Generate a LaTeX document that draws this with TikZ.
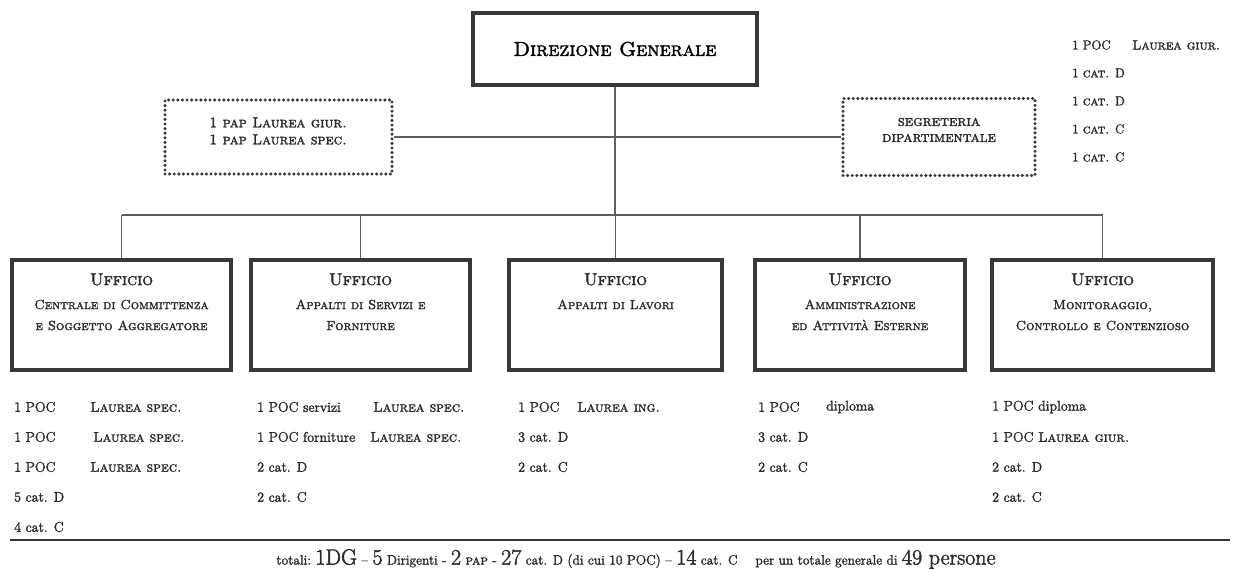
\documentclass[tikz,border=0pt]{standalone}
\usepackage{fontspec}
\setmainfont{Latin Modern Roman}[FakeBold=2, SmallCapsFont={Latin Modern Roman Caps}, SmallCapsFeatures={FakeBold=2}]
\usetikzlibrary{positioning}
\definecolor{boxgray}{HTML}{383838}
\definecolor{linegray}{HTML}{5E5E5E}
\definecolor{inkgray}{HTML}{2A2A2A}

\tikzset{
  capo/.style={draw=boxgray, line width=3.5pt, minimum width=284pt, minimum height=72pt, inner sep=0pt},
  ufficio/.style={draw=boxgray, line width=3.5pt, minimum height=110pt, inner sep=0pt},
  staff/.style={draw=boxgray, line width=3.4pt, dash pattern=on 0pt off 4.6pt, line cap=round, inner sep=0pt},
  titolo/.style={align=center, text=inkgray, inner sep=0pt, font=\fontsize{13.2}{21}\selectfont\scshape},
  voce/.style={anchor=west, inner sep=0pt, text=inkgray, font=\fontsize{14}{16}\selectfont},
  filo/.style={draw=linegray, line width=1.5pt}
}
\newcommand{\uff}{{\fontsize{17}{17}\selectfont Ufficio}\\[3pt]}
\newcommand{\grande}[1]{{\fontsize{22}{22}\selectfont #1}}

\begin{document}
\begin{tikzpicture}[x=1pt,y=-1pt]
\useasboundingbox (0,0) rectangle (1236,569);

% vertice e staff
\node[capo] (dg) at (615,49) {\fontsize{20}{20}\selectfont\scshape Direzione Generale};
\node[staff, minimum width=227pt, minimum height=74pt] (pap) at (278.5,137) {};
\node[staff, minimum width=192pt, minimum height=77pt] (segr) at (939,137) {};
\node[titolo, font=\fontsize{14.5}{17}\selectfont\scshape] (paptxt) at (278,131) {1 pap Laurea giur.\\1 pap Laurea spec.};
\node[titolo, font=\fontsize{15}{16}\selectfont\scshape] (segrtxt) at (939,130) {segreteria\\dipartimentale};

% uffici
\node[ufficio, minimum width=219pt] (u1) at (121.5,315) {};
\node[ufficio, minimum width=219pt] (u2) at (360.5,315) {};
\node[ufficio, minimum width=213pt] (u3) at (615.5,315) {};
\node[ufficio, minimum width=210pt] (u4) at (860,315) {};
\node[ufficio, minimum width=221pt] (u5) at (1102.5,315) {};

\node[titolo, below=15pt of u1.north] (t1) {\uff Centrale di Committenza\\e Soggetto Aggregatore};
\node[titolo, below=15pt of u2.north] (t2) {\uff Appalti di Servizi e\\Forniture};
\node[titolo, below=15pt of u3.north] (t3) {\uff Appalti di Lavori};
\node[titolo, below=15pt of u4.north] (t4) {\uff Amministrazione\\ed Attività Esterne};
\node[titolo, below=15pt of u5.north] (t5) {\uff Monitoraggio,\\Controllo e Contenzioso};

% collegamenti
\coordinate (bus) at (615,215);
\draw[filo] (pap) -- (segr);
\draw[filo] (dg) -- (bus);
\draw[filo] (u1.north |- bus) -- (u5.north |- bus);
\foreach \u in {u1,u2,u3,u4,u5}
  \draw[filo] (\u.north |- bus) -- (\u);

% segreteria: personale
\foreach \t [count=\i] in {1 POC,1 \textsc{cat.} D,1 \textsc{cat.} D,1 \textsc{cat.} C,1 \textsc{cat.} C}
  \node[voce, font=\fontsize{13}{15}\selectfont] (s\i) at (1072,17+28*\i) {\t};
\node[voce, font=\fontsize{13.5}{15}\selectfont\scshape] (s1b) at (1132,45) {Laurea giur.};

% personale per ufficio
\foreach \t [count=\i] in {1 POC,1 POC,1 POC,5 cat. D,4 cat. C}
  \node[voce] (a\i) at (14,377+30*\i) {\t};
\node[voce] (a1b) at (90,407) {\textsc{Laurea spec.}};
\node[voce] (a2b) at (93,437) {\textsc{Laurea spec.}};
\node[voce] (a3b) at (90,467) {\textsc{Laurea spec.}};

\foreach \t [count=\i] in {1 POC servizi,1 POC forniture,2 cat. D,2 cat. C}
  \node[voce] (b\i) at (257,377+30*\i) {\t};
\node[voce] (b1b) at (373,407) {\textsc{Laurea spec.}};
\node[voce] (b2b) at (370,437) {\textsc{Laurea spec.}};

\foreach \t [count=\i] in {1 POC,3 cat. D,2 cat. C}
  \node[voce] (c\i) at (518,377+30*\i) {\t};
\node[voce] (c1b) at (577,407) {\textsc{Laurea ing.}};

\foreach \t [count=\i] in {1 POC,3 cat. D,2 cat. C}
  \node[voce] (d\i) at (758,377+30*\i) {\t};
\node[voce] (d1b) at (826,407) {diploma};

\foreach \t [count=\i] in {1 POC diploma,1 POC \textsc{Laurea giur.},2 cat. D,2 cat. C}
  \node[voce] (e\i) at (992,377+30*\i) {\t};

% totali
\coordinate (rigas) at (10,540);
\coordinate (rigad) at (1230,540);
\draw[draw=boxgray, line width=2.5pt] (rigas) -- (rigad);
\node[titolo, font=\fontsize{13.5}{15}\selectfont] (tot) at (636,559)
  {totali:\ \grande{1DG} -- \grande{5} Dirigenti - \grande{2} \textsc{pap} - \grande{27} cat. D (di cui 10 POC) -- \grande{14} cat. C \quad per un totale generale di \grande{49 persone}};
\end{tikzpicture}
\end{document}
